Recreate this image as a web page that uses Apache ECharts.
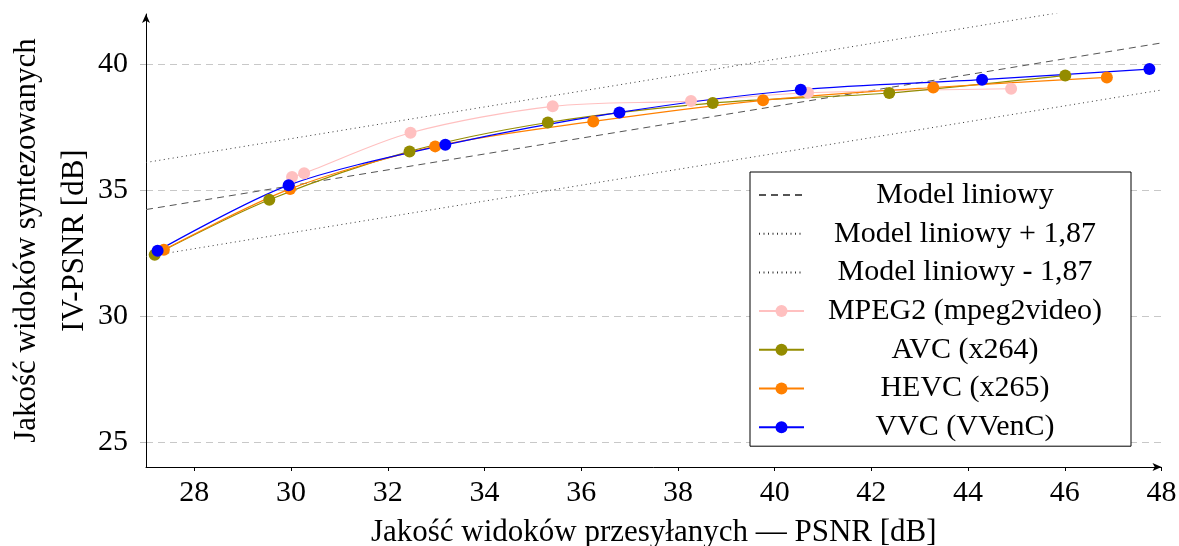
<!DOCTYPE html>
<html>
<head>
<meta charset="utf-8">
<script src="https://cdn.jsdelivr.net/npm/echarts@6/dist/echarts.min.js"></script>
<style>html,body{margin:0;padding:0;background:#fff;}#c{width:1179px;height:546px;}</style>
</head>
<body>
<div id="c"></div>
<script>
const xTicks = [28, 30, 32, 34, 36, 38, 40, 42, 44, 46, 48];
const yTicks = [25, 30, 35, 40];
const modelLine = [[27, 34.23], [48, 40.85]];
const modelUpper = [[27, 36.10], [48, 42.72]];
const modelLower = [[27, 32.36], [48, 38.98]];
const mpeg2 = [[30.02, 35.52], [30.27, 35.67], [32.47, 37.28], [35.41, 38.33], [38.27, 38.54], [40.69, 38.87], [44.89, 39.03]];
const avc = [[27.18, 32.43], [29.55, 34.62], [32.45, 36.54], [35.31, 37.69], [38.72, 38.46], [42.37, 38.86], [46.01, 39.56]];
const hevc = [[27.37, 32.63], [29.98, 35.05], [32.98, 36.74], [36.25, 37.73], [39.76, 38.57], [43.28, 39.08], [46.87, 39.48]];
const vvc = [[27.24, 32.59], [29.95, 35.20], [33.19, 36.80], [36.79, 38.09], [40.54, 38.99], [44.29, 39.39], [47.75, 39.81]];
const names = ['Model liniowy', 'Model liniowy + 1,87', 'Model liniowy - 1,87', 'MPEG2 (mpeg2video)', 'AVC (x264)', 'HEVC (x265)', 'VVC (VVenC)'];

const FONT = "'Liberation Serif', 'DejaVu Serif', serif";
const chart = echarts.init(document.getElementById('c'), null, {renderer: 'canvas'});

function dataSeries(name, data, color) {
  return {
    name: name, type: 'line', data: data, smooth: 0.3,
    symbol: 'circle', symbolSize: 12,
    itemStyle: {color: color},
    lineStyle: {color: color, width: 1.2},
    animation: false, z: 3
  };
}
function modelSeries(name, data, dash, color) {
  return {
    name: name, type: 'line', data: data, symbol: 'none',
    lineStyle: {color: color, width: 1, type: dash},
    itemStyle: {color: color},
    animation: false, z: 2
  };
}

const legendData = names.map(function (n, i) {
  return i < 3 ? {name: n, itemStyle: {opacity: 0}} : {name: n};
});

chart.setOption({
  backgroundColor: '#fff',
  animation: false,
  grid: {left: 146, right: 17.5, top: 14, bottom: 79, containLabel: false, outerBoundsMode: 'none'},
  xAxis: {
    type: 'value', min: 27, max: 48,
    name: 'Jakość widoków przesyłanych — PSNR [dB]',
    nameLocation: 'middle', nameGap: 50, nameMoveOverlap: false,
    nameTextStyle: {fontFamily: FONT, fontSize: 31, color: '#000'},
    axisLine: {show: true, lineStyle: {color: '#000', width: 1}, symbol: ['none', 'arrow'], symbolSize: [6, 9]},
    axisTick: {show: true, customValues: xTicks, length: 4, lineStyle: {color: '#000'}},
    axisLabel: {customValues: xTicks, fontFamily: FONT, fontSize: 30, color: '#000', margin: 11},
    splitLine: {show: false}
  },
  yAxis: {
    type: 'value', min: 24, max: 42,
    name: 'Jakość widoków syntezowanych\nIV-PSNR [dB]',
    nameLocation: 'middle', nameGap: 47, nameRotate: 90, nameMoveOverlap: false,
    nameTextStyle: {fontFamily: FONT, fontSize: 31, color: '#000', lineHeight: 48},
    axisLine: {show: true, lineStyle: {color: '#000', width: 1}, symbol: ['none', 'arrow'], symbolSize: [6, 9]},
    axisTick: {show: true, customValues: yTicks, length: 6, lineStyle: {color: '#bbb'}},
    axisLabel: {customValues: yTicks, fontFamily: FONT, fontSize: 30, color: '#000', margin: 18},
    splitLine: {show: true, lineStyle: {color: '#c8c8c8', width: 1, type: [7, 5]}}
  },
  legend: {
    show: true, orient: 'vertical', left: 750, top: 172,
    backgroundColor: '#fff', borderColor: '#000', borderWidth: 1,
    padding: [8, 10, 4, 8],
    itemWidth: 45, itemHeight: 15, itemGap: 8.7,
    data: legendData,
    formatter: function (n) { return '{a|' + n + '}'; },
    textStyle: {
      fontFamily: FONT, fontSize: 30, color: '#000', lineHeight: 30,
      rich: {a: {fontFamily: FONT, fontSize: 30, color: '#000', width: 312, align: 'center', lineHeight: 30}}
    }
  },
  series: [
    modelSeries(names[0], modelLine, [7, 5], '#555'),
    modelSeries(names[1], modelUpper, [1, 3.5], '#333'),
    modelSeries(names[2], modelLower, [1, 3.5], '#333'),
    dataSeries(names[3], mpeg2, '#ffc0c0'),
    dataSeries(names[4], avc, '#948c00'),
    dataSeries(names[5], hevc, '#ff8000'),
    dataSeries(names[6], vvc, '#0000ff')
  ]
});
</script>
</body>
</html>
